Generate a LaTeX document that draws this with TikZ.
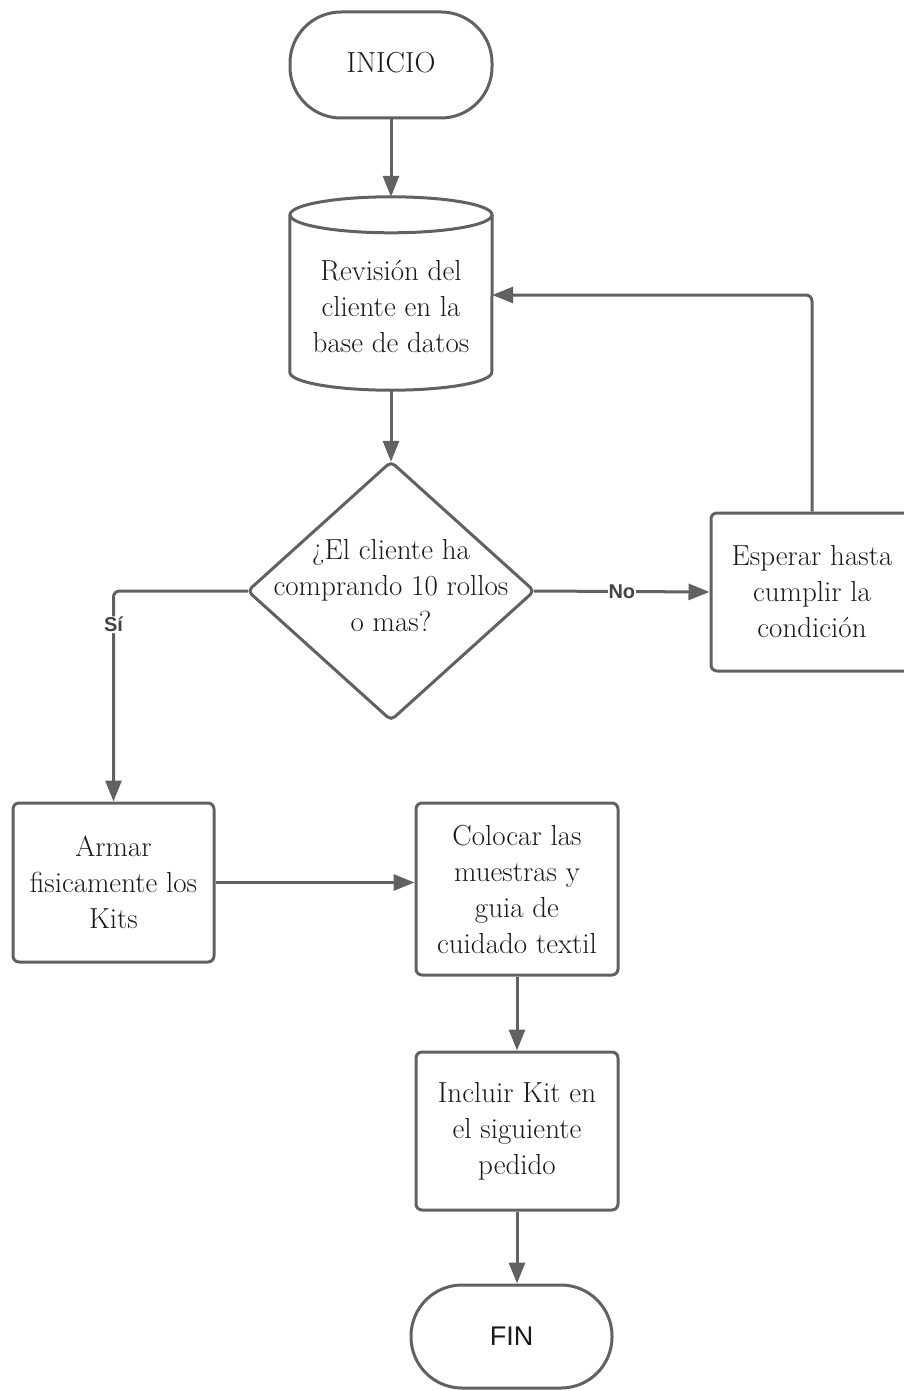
\documentclass[tikz,border=0pt]{standalone}
\usepackage{fontspec}
\newfontfamily\labelfont{Liberation Sans}
\usetikzlibrary{arrows.meta,calc}
\definecolor{ink}{HTML}{616161}
\definecolor{txt}{HTML}{1A1A1A}
\begin{document}
\begin{tikzpicture}[x=1pt,y=-1pt,
  every node/.style={font=\fontsize{29}{36}\selectfont, text=txt, align=center},
  line/.style={draw=ink, line width=3pt},
  arrow/.style={line, -{Triangle[length=21pt,width=16pt]}},
  box/.style={line, fill=white, rounded corners=6pt, inner sep=0pt},
  term/.style={box, rounded corners=51pt},
  lbl/.style={font=\labelfont\bfseries\fontsize{20}{22}\selectfont, fill=white, inner sep=1pt, text=ink!70!black}
]
\useasboundingbox (0,0) rectangle (904,1391);

% start / end terminators
\node[term, minimum width=202pt, minimum height=106pt] (ini) at (391,65) {\raisebox{6pt}{INICIO}};
\node[term, minimum width=201pt, minimum height=103pt, font=\labelfont\fontsize{27}{30}\selectfont] (fin) at (511.5,1336.5) {FIN};

% database lookup (cylinder)
\node[minimum width=202pt, minimum height=166pt, inner sep=0pt] (rev) at (391,307) {Revisión del\\cliente en la\\base de datos};
\coordinate (revtop) at ([yshift=9pt]rev.north);
\draw[line] ([yshift=9pt]rev.north west) -- ([yshift=18pt]rev.south west)
  arc[start angle=180, end angle=360, x radius=101pt, y radius=18pt]
  -- ([yshift=9pt]rev.north east);
\draw[line] (revtop) ellipse[x radius=101pt, y radius=18pt];

% decision
\node[minimum width=286pt, minimum height=258pt, inner sep=0pt] (dec) at (391,591) {};
\draw[line, rounded corners=5pt] (dec.north) -- (dec.east) -- (dec.south) -- (dec.west) -- cycle;
\node (dectext) at (391,586) {¿El cliente ha\\comprando 10 rollos\\o mas?};

% process steps
\node[box, minimum width=202pt, minimum height=158pt] (esp) at (812,592) {Esperar hasta\\cumplir la\\condición};
\node[box, minimum width=201pt, minimum height=159pt] (arm) at (113.5,882.5) {Armar\\fisicamente los\\Kits};
\node[box, minimum width=202pt, minimum height=172pt] (col) at (517,889) {Colocar las\\muestras y\\guia de\\cuidado textil};
\node[box, minimum width=202pt, minimum height=158pt] (inc) at (517,1131) {Incluir Kit en\\el siguiente\\pedido};

% connectors
\draw[arrow] (ini) -- ([yshift=18pt]revtop);
\draw[arrow] (rev.south) -- (dec.north);
\draw[arrow] (dec.east) -- node[lbl]{No} (esp.west);
\draw[arrow, rounded corners=6pt] (esp.north) |- ([yshift=12pt]rev.east);
\draw[arrow, rounded corners=6pt] (dec.west) -| node[lbl, pos=0.58]{Sí} (arm.north);
\draw[arrow] (arm.east) -- (arm.east -| col.west);
\draw[arrow] (col) -- (inc);
\draw[arrow] (inc.south) -- (inc.south |- fin.north);
\end{tikzpicture}
\end{document}
